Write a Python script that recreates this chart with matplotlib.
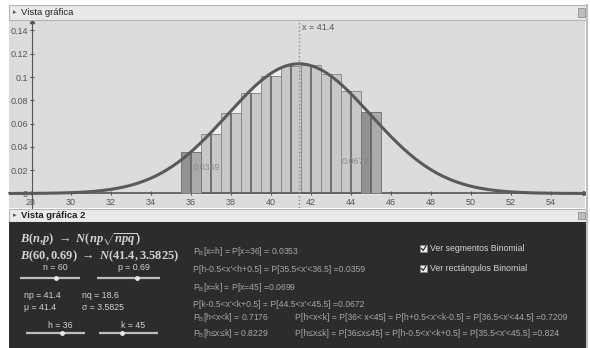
import numpy as np
import matplotlib.pyplot as plt
from matplotlib.patches import Rectangle

plt.rcParams['font.family'] = ['Liberation Sans', 'DejaVu Sans']
plt.rcParams['mathtext.fontset'] = 'custom'
plt.rcParams['mathtext.rm'] = 'Liberation Sans'
plt.rcParams['mathtext.it'] = 'Liberation Serif:italic:bold'
plt.rcParams['mathtext.bf'] = 'Liberation Serif:bold'

# binomial B(60, 0.69) between h=36 and k=45
k_vals = [36, 37, 38, 39, 40, 41, 42, 43, 44, 45]
pmf = [0.0353, 0.0510, 0.0687, 0.0862, 0.1008, 0.1094, 0.1102, 0.1026, 0.0883, 0.0699]
mu = 41.4
sigma = 3.5825
x_ticks = list(range(28, 56, 2))
y_ticks = [0, 0.02, 0.04, 0.06, 0.08, 0.1, 0.12, 0.14]
area_h = "0.0359"
area_k = "0.0672"

W, H = 590, 348
fig = plt.figure(figsize=(W/100, H/100), dpi=100)

# top graphics view
ax = fig.add_axes([9/W, 1-208/H, 576/W, 187/H])
ax.set_facecolor("#dcdcdc")
ax.set_xlim(26.9, 55.7)
ax.set_ylim(-0.01245, 0.1481)

xs = np.linspace(26.9, 55.7, 500)
ys = np.exp(-(xs-mu)**2/(2*sigma**2))/(sigma*np.sqrt(2*np.pi))
lo, hi = k_vals[0]-0.5, k_vals[-1]+0.5
m = (xs >= lo) & (xs <= hi)
ax.fill_between(xs[m], 0, ys[m], color="#eeeeee", zorder=1)

ax.bar(k_vals, pmf, width=1, color="#c8c8c8", edgecolor="#8c8c8c", lw=0.7, zorder=2)
ends = [k_vals[0], k_vals[-1]]
end_p = [pmf[0], pmf[-1]]
ax.bar(ends, end_p, width=-0.5, align="edge", color="#929292", edgecolor="#777777", lw=0.7, zorder=3)
ax.bar(ends, end_p, width=0.5, align="edge", color="#aaaaaa", edgecolor="#777777", lw=0.7, zorder=3)
ax.vlines(k_vals, 0, pmf, color="#6a6a6a", lw=1.3, zorder=4)

ax.plot(xs, ys, color="#5a5a5a", lw=2.2, zorder=5)
ax.axvline(mu, color="#8a8a8a", ls=":", lw=1, zorder=4)
ax.text(mu+0.15, 0.1405, "x = 41.4", fontsize=6.5, color="#555555")
ax.text(36.1, 0.0219, area_h, fontsize=6.5, color="#8a8a8a", va="center", zorder=6)
ax.text(43.55, 0.0273, area_k, fontsize=6.5, color="#8a8a8a", va="center", zorder=6)

for s in ["top", "right"]:
    ax.spines[s].set_visible(False)
ax.spines["left"].set_position(("data", 28.05))
ax.spines["bottom"].set_position(("data", 0))
ax.spines["left"].set_color("#555555")
ax.spines["bottom"].set_color("#555555")
ax.spines["bottom"].set_linewidth(1.2)
ax.set_xticks(x_ticks)
ax.set_yticks(y_ticks)
ax.set_yticklabels(["0", "0.02", "0.04", "0.06", "0.08", "0.1", "0.12", "0.14"])
ax.tick_params(direction="inout", length=3, width=0.8, colors="#555555",
               labelsize=6.5, pad=1.5)
ax.plot(1, 0, ">", color="#555555", ms=3, transform=ax.get_yaxis_transform(), clip_on=False)
ax.plot(28.05, 1, "^", color="#555555", ms=3, transform=ax.get_xaxis_transform(), clip_on=False)

# overlay in pixel coordinates for the frames and the algebra panel
ov = fig.add_axes([0, 0, 1, 1])
ov.set_xlim(0, W)
ov.set_ylim(H, 0)
ov.axis("off")
ov.patch.set_visible(False)

def header(y0, y1, label, bold):
    ov.add_patch(Rectangle((9, y0), 577, y1-y0, fc="#e9e9e9", ec="#b5b5b5", lw=0.8))
    ov.text(13, (y0+y1)/2, "\u25b8", fontsize=5, color="#555555", va="center", family="DejaVu Sans")
    ov.text(21, (y0+y1)/2, label, fontsize=6.8, color="#222222", va="center",
            weight="bold" if bold else "normal")
    ov.add_patch(Rectangle((578, y0+3), 7, y1-y0-6, fc="#bdbdbd", ec="#8f8f8f", lw=0.6))

header(5, 20, "Vista gr\u00e1fica", False)
header(209, 222, "Vista gr\u00e1fica 2", True)
ov.plot([586.5, 586.5], [5, 348], color="#c0c0c0", lw=1.5)

ov.add_patch(Rectangle((9, 222), 577, 126, fc="#2c2c2c", ec="none"))

light = "#d2d2d2"
dim = "#a6a6a6"
ov.text(20, 240, r"$B\mathbf{(}n\mathbf{,}p\mathbf{)}\ \rightarrow\ N\mathbf{(}np\sqrt{npq}\mathbf{)}$",
        fontsize=9, color=light, va="center")
ov.text(20, 256, r"$B\mathbf{(60,0.69)}\ \rightarrow\ N\mathbf{(41.4,3.5825)}$",
        fontsize=9, color=light, va="center")

def slider(x0, x1, xh, y, label, ly):
    ov.text((x0+x1)/2+5, ly, label, fontsize=6.3, color=light, ha="center", va="center")
    ov.plot([x0, x1], [y, y], color="#bdbdbd", lw=1.6, solid_capstyle="butt")
    ov.plot(xh, y, "o", ms=2.5, color="#e8e8e8")

slider(20, 80, 56, 278, "n = 60", 268)
slider(97, 160, 137, 278, "p = 0.69", 268)
slider(26, 85, 62, 333, "h = 36", 325)
slider(99, 158, 122, 333, "k = 45", 325)

ov.text(24, 296, "np = 41.4", fontsize=6.3, color=light, va="center")
ov.text(82, 296, "nq = 18.6", fontsize=6.3, color=light, va="center")
ov.text(24, 307.5, "\u03bc = 41.4", fontsize=6.3, color=light, va="center")
ov.text(82, 307.5, "\u03c3 = 3.5825", fontsize=6.3, color=light, va="center")

rx = 193
fs = 6.2
ov.text(rx, 252, r"P$_{\mathrm{B}}$[x=h] = P[x=36] = 0.0353", fontsize=fs, color=dim, va="center")
ov.text(rx, 270, "P[h-0.5<x'<h+0.5] = P[35.5<x'<36.5] =0.0359", fontsize=fs, color=dim, va="center")
ov.text(rx, 287, r"P$_{\mathrm{B}}$[x=k] = P[x=45] =0.0699", fontsize=fs, color=dim, va="center")
ov.text(rx, 304.5, "P[k-0.5<x'<k+0.5] = P[44.5<x'<45.5] =0.0672", fontsize=fs, color=dim, va="center")
ov.text(rx, 317, r"P$_{\mathrm{B}}$[h<x<k] = 0.7176", fontsize=fs, color=dim, va="center")
ov.text(rx, 333.5, "P$_{\\mathrm{B}}$[h\u2264x\u2264k] = 0.8229", fontsize=fs, color=dim, va="center")
ov.text(295, 317, "P[h<x<k] = P[36< x<45] = P[h+0.5<x'<k-0.5] = P[36.5<x'<44.5] =0.7209",
        fontsize=fs, color=dim, va="center")
ov.text(295, 333.5, "P[h\u2264x\u2264k] = P[36\u2264x\u226445] = P[h-0.5<x'<k+0.5] = P[35.5<x'<45.5] =0.824",
        fontsize=fs, color=dim, va="center")

for yy, lab in [(248.5, "Ver segmentos Binomial"), (268.5, "Ver rect\u00e1ngulos Binomial")]:
    ov.add_patch(Rectangle((420, yy-3.5), 7, 7, fc="#f0f0f0", ec="#888888", lw=0.5))
    ov.plot([421.5, 423.2, 425.8], [yy, yy+2, yy-2.3], color="#333333", lw=0.9)
    ov.text(430, yy, lab, fontsize=6.3, color=light, va="center")

fig.savefig("out.png", dpi=100)
